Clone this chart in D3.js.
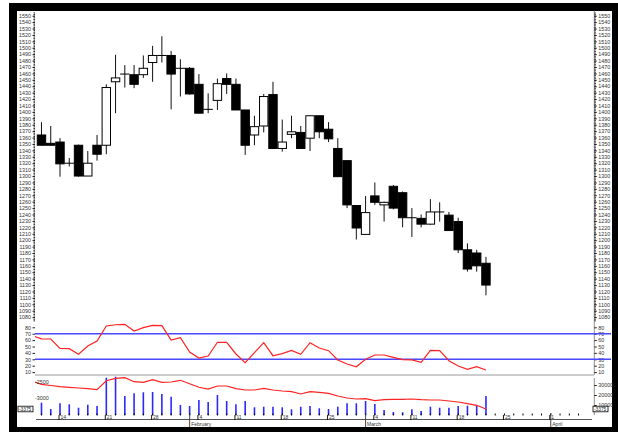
<!DOCTYPE html>
<html><head><meta charset="utf-8">
<script src="https://cdn.jsdelivr.net/npm/d3@7/dist/d3.min.js"></script>
<style>
body{margin:0;background:#fff}
svg{display:block}
text{font-family:"Liberation Sans",Arial,sans-serif}
</style>
</head><body>
<svg id="c" width="618" height="432"></svg>
<script>
// ---- data (trading-day index 0..48) ----
const opens  = [1364,1351,1353,1320,1348,1300,1348,1348,1447,1459,1458,1458,1477,1488,1488,1468,1468,1443,1404,1418,1452,1443,1403,1364,1378,1427,1343,1365,1368,1359,1394,1373,1343,1324,1254,1209,1269,1255,1284,1274,1235,1234,1225,1244,1239,1229,1185,1180,1164];
const highs  = [1384,1378,1359,1328,1349,1339,1364,1443,1489,1473,1473,1488,1503,1518,1495,1482,1470,1459,1429,1452,1460,1452,1403,1394,1428,1447,1388,1394,1378,1394,1394,1384,1359,1324,1254,1269,1290,1260,1286,1276,1250,1240,1264,1259,1244,1235,1195,1185,1174];
const lows   = [1348,1348,1299,1315,1299,1300,1324,1334,1398,1438,1437,1453,1447,1477,1404,1424,1427,1398,1398,1403,1428,1403,1333,1348,1368,1343,1338,1359,1343,1339,1359,1353,1299,1250,1201,1209,1255,1229,1248,1220,1205,1220,1224,1229,1215,1180,1151,1151,1114];
const closes = [1348,1348,1319,1320,1300,1320,1334,1438,1453,1459,1443,1468,1488,1488,1459,1468,1428,1398,1404,1444,1443,1403,1348,1377,1424,1343,1353,1369,1343,1394,1369,1358,1299,1255,1219,1243,1259,1259,1250,1235,1235,1225,1244,1244,1215,1185,1155,1160,1130];
// RSI, index -1..48
const rsiValues = [67,62,61.7,47,46.6,37.8,50.8,58.6,82,84,84.7,74.2,79.4,83,82.5,60,63.8,41.4,32,35.2,56.6,56.6,38.3,24.7,40.3,56,35.6,38.8,44,37.8,56,47.7,43.5,29,22.7,18.4,30,36.7,36.7,33.1,29.5,29,25.3,44,43.5,27.8,19.5,14.4,18.4,13.3];
// volume, index 0..48
const volumes = [12300,6000,11700,10700,7300,10300,9000,37300,38300,19000,21700,22700,23000,21000,18300,10000,9000,15000,13000,20000,14000,10700,14000,7700,8300,8300,7700,5700,8300,9000,6700,6000,8300,11700,11700,14000,11000,5000,3000,2700,5700,4000,8300,7300,7300,9000,9300,10000,19000];
// accumulation line (left scale of volume panel), index -1..48
const accValues = [-2480,-2583,-2622,-2660,-2680,-2702,-2724,-2756,-2468,-2391,-2372,-2500,-2519,-2436,-2519,-2510,-2455,-2564,-2679,-2740,-2638,-2638,-2724,-2766,-2766,-2712,-2766,-2798,-2820,-2894,-2820,-2840,-2872,-2958,-3022,-3054,-3045,-3109,-3077,-3064,-3064,-3054,-3077,-3087,-3087,-3119,-3151,-3205,-3256,-3375];

const priceTicks = d3.range(1080, 1551, 10);
const priceMinor = d3.range(1075, 1556, 2.5);
const rsiTicks = [10,20,30,40,50,60,70,80];
const rsiLevels = [70, 30];
const volTicks = [10000,20000,30000];
const accTicks = [-2500,-3000];
const weekIdx = [2,7,12,17,21,26,31,36,40,45,50,55];
const weekLabels = ["14","21","28","4","11","18","25","4","11","18","25","1"];
const monthIdx = [16,35,55];
const monthLabels = ["February","March","April"];
const dayTicks = d3.range(0, 59);

const plain = d => String(Math.round(d));

// ---- scales ----
const x = d3.scaleLinear().domain([-0.7, 59.7]).range([35, 594.3]);
const yP = d3.scaleLinear().domain([1100, 1550]).range([304.3, 15.7]);
const yR = d3.scaleLinear().domain([30, 70]).range([359.3, 333.7]);
const yV = d3.scaleLinear().domain([0, 30000]).range([415, 385]);
const yA = d3.scaleLinear().domain([-3000, -2500]).range([397.3, 381.7]);

const svg = d3.select("#c");
// frame
svg.append("rect").attr("x",9).attr("y",3).attr("width",609).attr("height",429).attr("fill","#000");
svg.append("rect").attr("x",17).attr("y",11).attr("width",595).attr("height",416).attr("fill","#fff");

const defs = svg.append("defs");
defs.append("clipPath").attr("id","plot").append("rect")
  .attr("x",35).attr("y",11).attr("width",559.3).attr("height",416);

const FS = "5.4px";
function styleAxis(g){
  g.selectAll("text").attr("font-size",FS).attr("fill","#333");
  g.selectAll("line").attr("stroke","#222");
}

// ---- price axes ----
svg.append("g").attr("transform","translate(35,0)")
  .call(d3.axisLeft(yP).tickValues(priceMinor).tickSize(1.5).tickFormat(""))
  .call(g=>g.select(".domain").remove()).call(styleAxis);
svg.append("g").attr("transform","translate(35,0)")
  .call(d3.axisLeft(yP).tickValues(priceTicks).tickSize(2.5).tickPadding(1.5).tickFormat(plain))
  .call(g=>g.select(".domain").remove()).call(styleAxis);
svg.append("g").attr("transform","translate(594.3,0)")
  .call(d3.axisRight(yP).tickValues(priceMinor).tickSize(1.5).tickFormat(""))
  .call(g=>g.select(".domain").remove()).call(styleAxis);
svg.append("g").attr("transform","translate(594.3,0)")
  .call(d3.axisRight(yP).tickValues(priceTicks).tickSize(2.5).tickPadding(1.5).tickFormat(plain))
  .call(g=>g.select(".domain").attr("stroke","#444").attr("stroke-width",0.6).attr("d","M0,10V320"))
  .call(styleAxis);

// ---- candles ----
const idx = d3.range(opens.length);
const bw = 8.4;
const cg = svg.append("g");
cg.selectAll("line.w").data(idx).join("line")
  .attr("x1",i=>x(i)).attr("x2",i=>x(i))
  .attr("y1",i=>yP(highs[i])).attr("y2",i=>yP(lows[i]))
  .attr("stroke","#111").attr("stroke-width",1);
cg.selectAll("rect.b").data(idx).join("rect")
  .attr("x",i=>x(i)-bw/2)
  .attr("y",i=>yP(Math.max(opens[i],closes[i])))
  .attr("width",bw)
  .attr("height",i=>Math.max(0.01, Math.abs(yP(opens[i])-yP(closes[i]))))
  .attr("fill",i=>closes[i]<opens[i]?"#000":"#fff")
  .attr("stroke","#000").attr("stroke-width",1);

// ---- RSI panel ----
svg.append("g").attr("transform","translate(35,0)")
  .call(d3.axisLeft(yR).tickValues(rsiTicks).tickSize(2.5).tickPadding(1.5).tickFormat(plain))
  .call(g=>g.select(".domain").remove()).call(styleAxis);
svg.append("g").attr("transform","translate(594.3,0)")
  .call(d3.axisRight(yR).tickValues(rsiTicks).tickSize(2.5).tickPadding(1.5).tickFormat(plain))
  .call(g=>g.select(".domain").attr("stroke","#444").attr("stroke-width",0.6).attr("d","M0,320V375"))
  .call(styleAxis);
svg.selectAll("line.lvl").data(rsiLevels).join("line")
  .attr("x1",35).attr("x2",611).attr("y1",d=>yR(d)).attr("y2",d=>yR(d))
  .attr("stroke","#4848ff").attr("stroke-width",1.5);
svg.append("line").attr("x1",35).attr("x2",594).attr("y1",375).attr("y2",375)
  .attr("stroke","#bbb").attr("stroke-width",1.4);
const rsiLine = d3.line().x((d,i)=>x(i-1)).y(d=>yR(d));
svg.append("path").attr("d",rsiLine(rsiValues)).attr("clip-path","url(#plot)")
  .attr("fill","none").attr("stroke","#ff2222").attr("stroke-width",1.2);

// ---- volume panel ----
svg.selectAll("line.vol").data(idx).join("line")
  .attr("x1",i=>x(i)).attr("x2",i=>x(i))
  .attr("y1",i=>yV(volumes[i])).attr("y2",yV(0))
  .attr("stroke","#2a2aff").attr("stroke-width",1.6);
const accLine = d3.line().x((d,i)=>x(i-1)).y(d=>yA(d));
svg.append("path").attr("d",accLine(accValues)).attr("clip-path","url(#plot)")
  .attr("fill","none").attr("stroke","#ff2222").attr("stroke-width",1.2);
svg.append("g").attr("transform","translate(34,0)")
  .call(d3.axisRight(yA).tickValues(accTicks).tickSize(0).tickPadding(1).tickFormat(plain))
  .call(g=>g.select(".domain").remove()).call(styleAxis);
svg.append("g").attr("transform","translate(594.3,0)")
  .call(d3.axisRight(yV).tickValues(volTicks).tickSize(2.5).tickPadding(1.5).tickFormat(plain))
  .call(g=>g.select(".domain").attr("stroke","#444").attr("stroke-width",0.6).attr("d","M0,378V415"))
  .call(styleAxis);
// last-value markers
const lastAcc = accValues[accValues.length-1];
[18, 593].forEach(bx=>{
  const g = svg.append("g");
  g.append("rect").attr("x",bx).attr("y",yA(lastAcc)-2.8).attr("width",15).attr("height",5.6)
    .attr("fill","#fff").attr("stroke","#000").attr("stroke-width",0.8);
  g.append("text").attr("x",bx+1).attr("y",yA(lastAcc)+1.8).attr("font-size","4.8px").attr("fill","#222")
    .text(plain(lastAcc));
});

// ---- date axis ----
const da = svg.append("g");
da.append("line").attr("x1",36).attr("x2",592).attr("y1",419.5).attr("y2",419.5)
  .attr("stroke","#555").attr("stroke-width",1);
da.selectAll("line.d").data(dayTicks).join("line")
  .attr("x1",d=>x(d)).attr("x2",d=>x(d)).attr("y1",413.5).attr("y2",415.5)
  .attr("stroke","#000").attr("stroke-width",1);
da.selectAll("line.wk").data(weekIdx).join("line")
  .attr("x1",d=>x(d)-1).attr("x2",d=>x(d)-1).attr("y1",415).attr("y2",420)
  .attr("stroke","#000").attr("stroke-width",0.9);
da.selectAll("text.wk").data(weekIdx).join("text")
  .attr("x",d=>x(d)+0.5).attr("y",419).attr("font-size","5px").attr("fill","#333")
  .text((d,i)=>weekLabels[i]);
da.selectAll("line.mo").data(monthIdx).join("line")
  .attr("x1",d=>x(d)).attr("x2",d=>x(d)).attr("y1",413).attr("y2",427)
  .attr("stroke","#333").attr("stroke-width",0.9);
da.selectAll("text.mo").data(monthIdx).join("text")
  .attr("x",d=>x(d)+1.5).attr("y",425.5).attr("font-size","5px").attr("fill","#333")
  .text((d,i)=>monthLabels[i]);
</script>
</body></html>
